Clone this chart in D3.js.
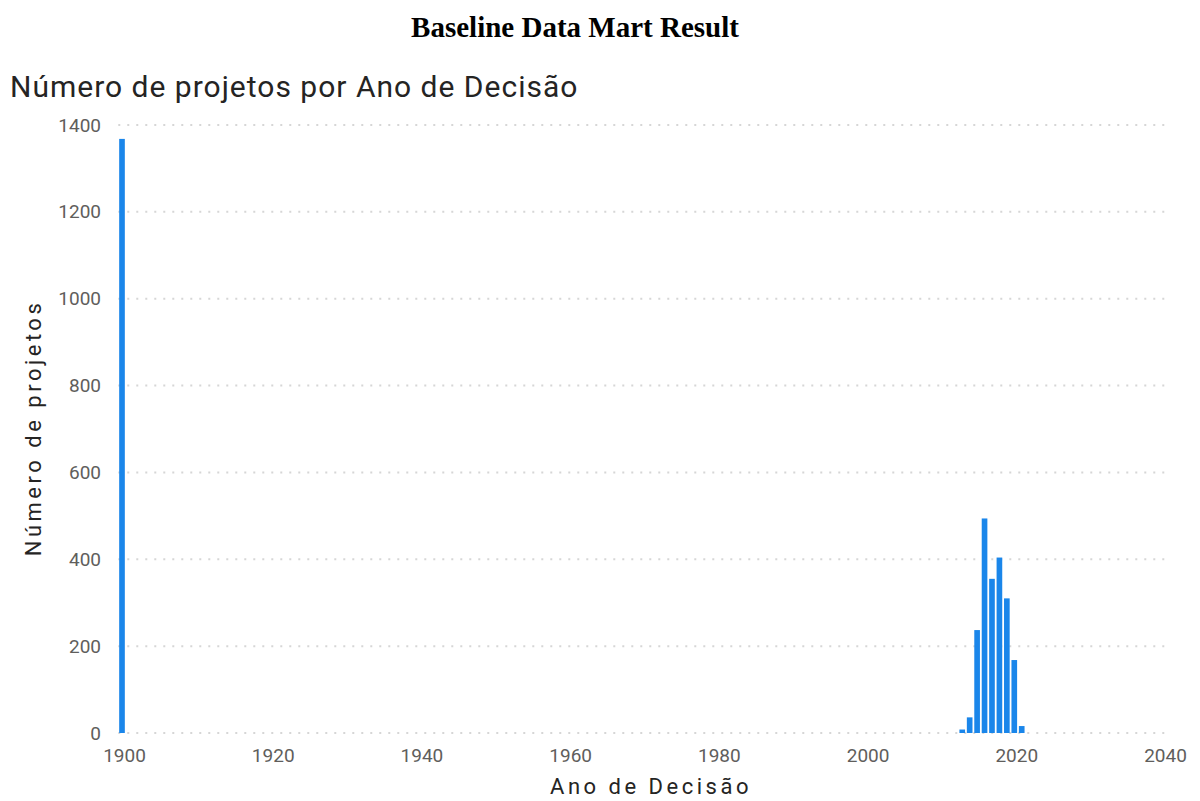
<!DOCTYPE html>
<html>
<head>
<meta charset="utf-8">
<script src="https://cdn.jsdelivr.net/npm/d3@7"></script>
<style>
  html, body { margin: 0; padding: 0; background: #fff; }
  svg { display: block; }
</style>
</head>
<body>
<svg id="chart" width="1200" height="801"></svg>
<script>
// Decision years and number of projects decided in each year
const years  = [1900, 2013, 2014, 2015, 2016, 2017, 2018, 2019, 2020, 2021];
const counts = [1368,    8,   36,  237,  494,  355,  404,  310,  168,   16];

const xTicks = [1900, 1920, 1940, 1960, 1980, 2000, 2020, 2040];
const yTicks = [0, 200, 400, 600, 800, 1000, 1200, 1400];

const pageTitle  = "Baseline Data Mart Result";
const chartTitle = "Número de projetos por Ano de Decisão";
const xTitle     = "Ano de Decisão";
const yTitle     = "Número de projetos";

const data = years.map((y, i) => ({ year: y, count: counts[i] }));

const svg = d3.select("#chart");
const font = "Roboto, 'DejaVu Sans', sans-serif";

const x = d3.scaleLinear().domain([1900, 2040]).range([122, 1163]);
const y = d3.scaleLinear().domain([0, 1400]).range([733, 125]);

// page heading
svg.append("text")
  .attr("x", 575).attr("y", 37)
  .attr("text-anchor", "middle")
  .attr("font-family", "'Liberation Serif', 'Times New Roman', serif")
  .attr("font-weight", "bold")
  .attr("font-size", 29)
  .attr("fill", "#000")
  .text(pageTitle);

// visual title
svg.append("text")
  .attr("x", 10).attr("y", 97)
  .attr("font-family", font)
  .attr("font-size", 30)
  .attr("letter-spacing", 1)
  .attr("fill", "#252423")
  .text(chartTitle);

// horizontal dotted gridlines
svg.append("g")
  .selectAll("line")
  .data(yTicks)
  .join("line")
  .attr("x1", x(1899.5)).attr("x2", x(2040.3))
  .attr("y1", d => y(d)).attr("y2", d => y(d))
  .attr("stroke", "#d6d6d6")
  .attr("stroke-width", 2)
  .attr("stroke-dasharray", "2,7");

// y axis tick labels
const yAxis = d3.axisLeft(y).tickValues(yTicks).tickSize(0).tickPadding(0).tickFormat(d3.format("d"));
const gy = svg.append("g").attr("transform", "translate(101,0)").call(yAxis);
gy.select(".domain").remove();
gy.selectAll("text")
  .attr("font-family", font)
  .attr("font-size", 19)
  .attr("fill", "#605e5c");

// x axis tick labels
const xAxis = d3.axisBottom(x).tickValues(xTicks).tickSize(0).tickPadding(0).tickFormat(d3.format("d"));
const gx = svg.append("g").attr("transform", "translate(2,748)").call(xAxis);
gx.select(".domain").remove();
gx.selectAll("text")
  .attr("font-family", font)
  .attr("font-size", 19)
  .attr("fill", "#605e5c");

// bars, one per decision year
const bw = (x(1901) - x(1900)) * 0.76;
svg.append("g")
  .selectAll("rect")
  .data(data)
  .join("rect")
  .attr("x", d => x(d.year) - bw / 2)
  .attr("width", bw)
  .attr("y", d => y(d.count))
  .attr("height", d => y(0) - y(d.count))
  .attr("fill", "#1a86ea");

// axis titles
svg.append("text")
  .attr("x", 651).attr("y", 794)
  .attr("text-anchor", "middle")
  .attr("font-family", font)
  .attr("font-size", 22)
  .attr("letter-spacing", 3.5)
  .attr("fill", "#252423")
  .text(xTitle);

svg.append("text")
  .attr("transform", "translate(41,428) rotate(-90)")
  .attr("text-anchor", "middle")
  .attr("font-family", font)
  .attr("font-size", 22)
  .attr("letter-spacing", 3.5)
  .attr("fill", "#252423")
  .text(yTitle);
</script>
</body>
</html>
